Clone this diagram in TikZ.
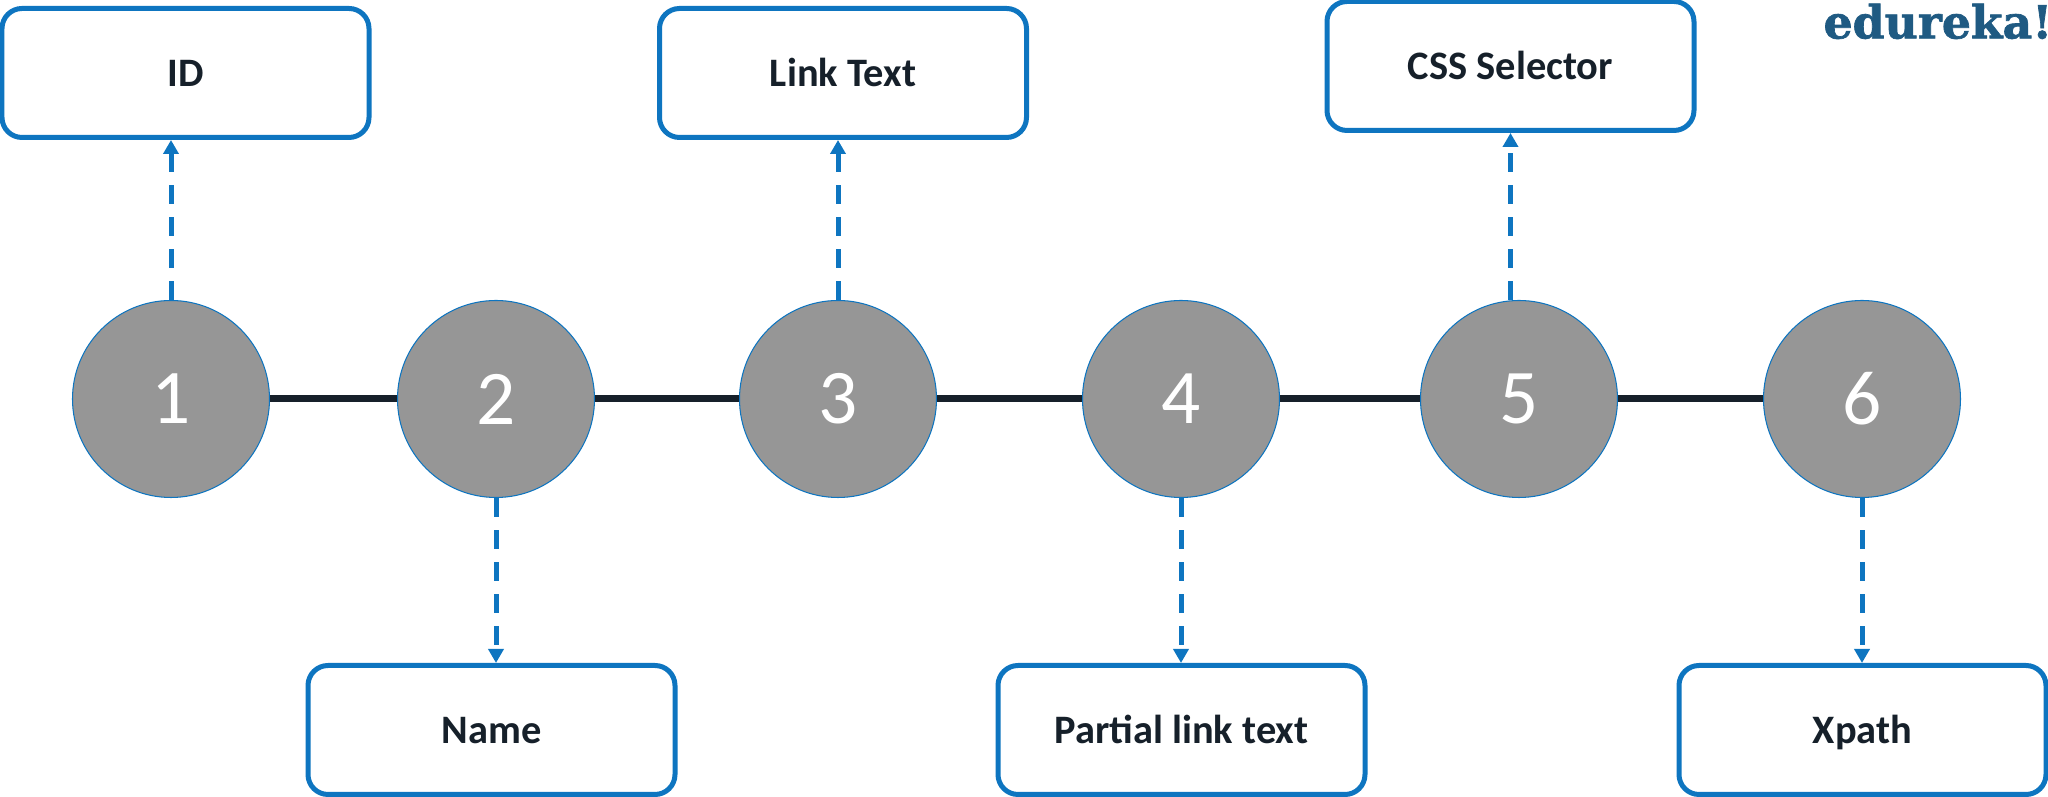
\documentclass[tikz,border=0pt]{standalone}
\usepackage{fontspec}
\setmainfont{Carlito}
\newfontfamily\logofont[BoldFeatures={FakeBold=1.5}]{DejaVu Serif}
\usetikzlibrary{arrows.meta}
\definecolor{edgeblue}{HTML}{0E75C0}
\definecolor{roundgray}{HTML}{969696}
\definecolor{inkdark}{HTML}{16202A}
\definecolor{logoblue}{HTML}{1F5A82}

\begin{document}
\begin{tikzpicture}
	\tikzstyle{roundStyle}=[shape = circle, minimum size = 1.97cm, inner sep = 0pt, draw = edgeblue, line width = 0.3pt, fill = roundgray, text = white, font = \fontsize{22}{22}\selectfont]
	\tikzstyle{boxStyle}=[shape = rectangle, rounded corners = 0.2cm, minimum width = 3.67cm, minimum height = 1.29cm, text height = 0.35cm, text depth = 0.08cm, inner sep = 0pt, draw = edgeblue, line width = 0.05cm, fill = white, text = inkdark, font = \fontsize{11.5}{11.5}\selectfont\bfseries]
	\tikzstyle{linkStyle}=[line width = 0.07cm, inkdark]
	\tikzstyle{dashStyle}=[line width = 0.05cm, edgeblue, dash pattern = on 0.19cm off 0.13cm, -{Triangle[width = 0.15cm, length = 0.14cm]}]
	\useasboundingbox (0, 0) rectangle (20.48, 7.97);
	\node[roundStyle] (c1) at (1.71, 3.98) {1};
	\node[roundStyle] (c2) at (4.96, 3.98) {2};
	\node[roundStyle] (c3) at (8.38, 3.98) {3};
	\node[roundStyle] (c4) at (11.81, 3.98) {4};
	\node[roundStyle] (c5) at (15.19, 3.98) {5};
	\node[roundStyle] (c6) at (18.62, 3.98) {6};
	\node[boxStyle] (idbox) at (1.855, 7.24) {ID};
	\node[boxStyle] (namebox) at (4.915, 0.67) {Name};
	\node[boxStyle] (linkbox) at (8.43, 7.24) {Link Text};
	\node[boxStyle] (partialbox) at (11.815, 0.67) {Partial link text};
	\node[boxStyle] (cssbox) at (15.105, 7.31) {CSS Selector};
	\node[boxStyle] (xpathbox) at (18.625, 0.67) {Xpath};
	\node[anchor = north east, inner sep = 0pt, text = logoblue, font = \logofont\fontsize{13}{13}\selectfont\bfseries] (logo) at (20.53, 7.94) {edureka!};
	\draw[linkStyle] (c1) -- (c2);
	\draw[linkStyle] (c2) -- (c3);
	\draw[linkStyle] (c3) -- (c4);
	\draw[linkStyle] (c4) -- (c5);
	\draw[linkStyle] (c5) -- (c6);
	\draw[dashStyle] (c1.north) -- (c1.north |- idbox.south);
	\draw[dashStyle] (c2.south) -- (c2.south |- namebox.north);
	\draw[dashStyle] (c3.north) -- (c3.north |- linkbox.south);
	\draw[dashStyle] (c4.south) -- (c4.south |- partialbox.north);
	\draw[dashStyle] (cssbox.south |- c5.north) -- (cssbox.south);
	\draw[dashStyle] (c6.south) -- (c6.south |- xpathbox.north);
\end{tikzpicture}
\end{document}
